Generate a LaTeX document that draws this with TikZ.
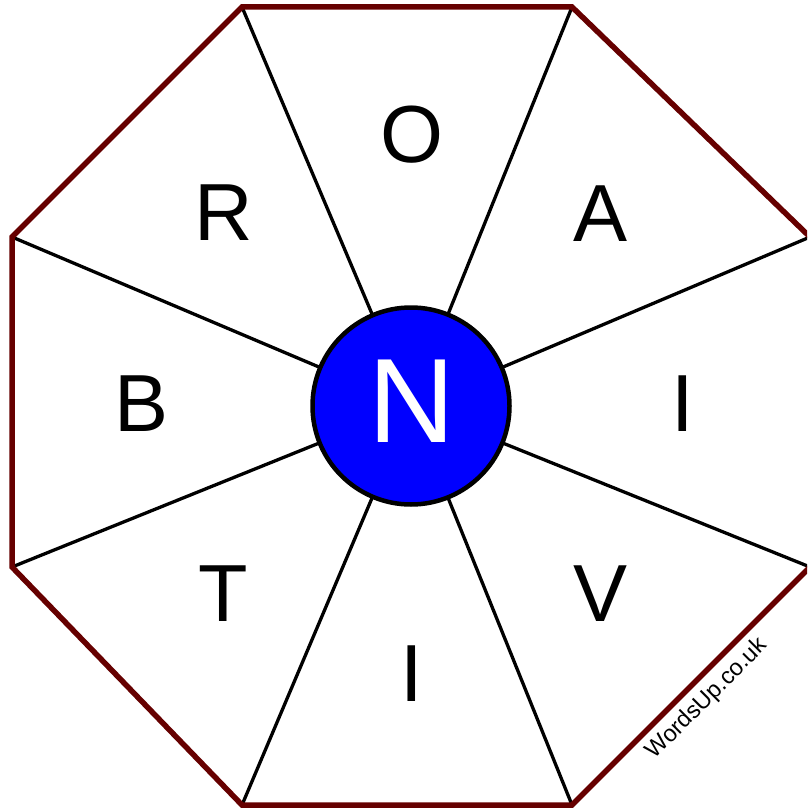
\documentclass[tikz,border=0pt]{standalone}
\usepackage{fontspec}
\setmainfont{Liberation Sans}
\definecolor{octred}{RGB}{102,0,0}
\definecolor{hubblue}{RGB}{0,0,255}
\begin{document}
\begin{tikzpicture}[x=1pt,y=-1pt,
  rim/.style={draw=octred,line width=5.5pt,line join=miter},
  spoke/.style={draw=black,line width=3.3pt},
  hub/.style={circle,fill=hubblue,draw=black,line width=4.5pt,minimum size=197pt,inner sep=0pt},
  letter/.style={font=\fontsize{81}{81}\selectfont,inner sep=0pt,anchor=center},
  centre/.style={font=\fontsize{120}{120}\selectfont,text=white,inner sep=0pt},
  watermark/.style={font=\fontsize{23.5}{23.5}\selectfont,rotate=45,inner sep=0pt}]
\useasboundingbox (0,0) rectangle (807,810);
\clip (0,0) rectangle (807,810);
\coordinate (v1) at (242,7);
\coordinate (v2) at (572,7);
\coordinate (v3) at (810,237);
\coordinate (v4) at (810,567);
\coordinate (v5) at (572,805);
\coordinate (v6) at (242,805);
\coordinate (v7) at (12,567);
\coordinate (v8) at (12,237);
\coordinate (c) at (411,406);
\foreach \v in {v1,v2,v3,v4,v5,v6,v7,v8} \draw[spoke] (c) -- (\v);
\draw[rim] (v1) -- (v2) -- (v3) -- (v4) -- (v5) -- (v6) -- (v7) -- (v8) -- cycle;
\node[hub] (h) at (c) {};
\node[centre] (n) at (412,401) {N};
\node[letter] (lo) at (412,135) {O};
\node[letter] (la) at (601,214) {A};
\node[letter] (li1) at (683,404) {I};
\node[letter] (lv) at (601,594) {V};
\node[letter] (li2) at (412,674) {I};
\node[letter] (lt) at (223,594) {T};
\node[letter] (lb) at (142,404) {B};
\node[letter] (lr) at (224,213) {R};
\node[watermark] (wm) at (707,699) {WordsUp.co.uk};
\end{tikzpicture}
\end{document}
